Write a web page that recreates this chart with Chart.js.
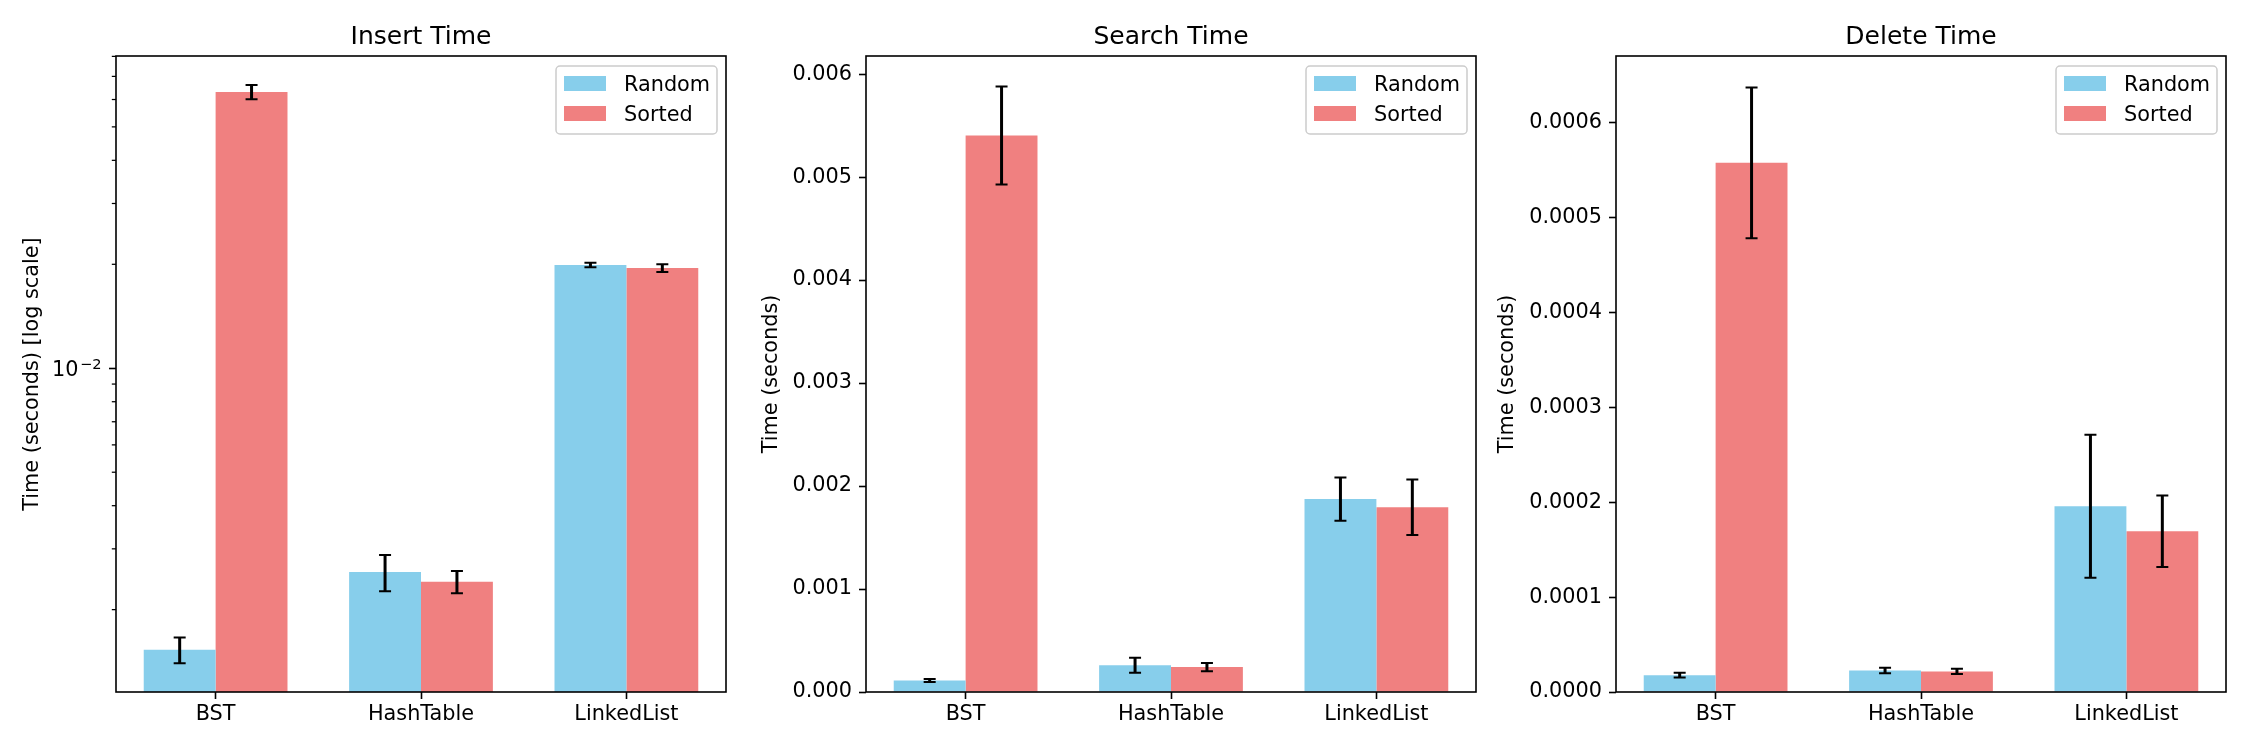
<!DOCTYPE html>
<html>
<head>
<meta charset="utf-8">
<title>Insert / Search / Delete Time</title>
<script src="https://cdn.jsdelivr.net/npm/chart.js@4.4.1/dist/chart.umd.min.js"></script>
<style>
  body { margin: 0; background: #fff; }
  #wrap { position: relative; width: 2250px; height: 750px; overflow: hidden; }
  canvas { display: block; position: absolute; top: 0; }
  #insertChart { left: -10px; }
  #searchChart { left: 740px; }
  #deleteChart { left: 1490px; }
</style>
</head>
<body>
<div id="wrap">
  <canvas id="insertChart" width="760" height="750"></canvas>
  <canvas id="searchChart" width="760" height="750"></canvas>
  <canvas id="deleteChart" width="760" height="750"></canvas>
</div>
<script>
const categories = ['BST', 'HashTable', 'LinkedList'];
const seriesNames = ['Random', 'Sorted'];
const seriesColors = ['#87CEEB', '#F08080'];

// mean times (seconds) and std error bars
const insertRandom = [0.00153, 0.00257, 0.0199];
const insertRandomErr = [0.00013, 0.00031, 0.0003];
const insertSorted = [0.0631, 0.00241, 0.0195];
const insertSortedErr = [0.0030, 0.00018, 0.0005];

const searchRandom = [0.000112, 0.000260, 0.001873];
const searchRandomErr = [0.000015, 0.000072, 0.000210];
const searchSorted = [0.005404, 0.000242, 0.001794];
const searchSortedErr = [0.000477, 0.000040, 0.000270];

const deleteRandom = [0.0000177, 0.0000227, 0.0001958];
const deleteRandomErr = [0.0000025, 0.0000028, 0.0000754];
const deleteSorted = [0.000558, 0.0000217, 0.0001695];
const deleteSortedErr = [0.0000795, 0.0000028, 0.0000378];

// y tick values
const insertTicks = [0.002, 0.003, 0.004, 0.005, 0.006, 0.007, 0.008, 0.009,
                     0.01, 0.02, 0.03, 0.04, 0.05, 0.06, 0.07, 0.08];
const searchTicks = [0, 0.001, 0.002, 0.003, 0.004, 0.005, 0.006];
const deleteTicks = [0, 0.0001, 0.0002, 0.0003, 0.0004, 0.0005, 0.0006];

const FONT = 'DejaVu Sans';
const FS = 20.8;
const SHIFT = 10; // canvases start 10px left of their panel so y titles are not clipped

function isPow10(v) {
    const l = Math.log10(v);
    return Math.abs(l - Math.round(l)) < 1e-9;
}

// error bars, frame, title, axis title, legend
const decorPlugin = {
    id: 'decor',
    afterDatasetsDraw(chart) {
        const ctx = chart.ctx;
        const y = chart.scales.y;
        ctx.save();
        ctx.strokeStyle = '#000';
        chart.data.datasets.forEach((ds, d) => {
            const meta = chart.getDatasetMeta(d);
            meta.data.forEach((bar, i) => {
                const v = ds.data[i].y;
                const e = ds.errors[i];
                const top = y.getPixelForValue(v + e);
                const bot = y.getPixelForValue(v - e);
                ctx.lineWidth = 3;
                ctx.beginPath();
                ctx.moveTo(bar.x, top);
                ctx.lineTo(bar.x, bot);
                ctx.stroke();
                ctx.lineWidth = 2;
                ctx.beginPath();
                ctx.moveTo(bar.x - 6, top);
                ctx.lineTo(bar.x + 6, top);
                ctx.moveTo(bar.x - 6, bot);
                ctx.lineTo(bar.x + 6, bot);
                ctx.stroke();
            });
        });
        ctx.restore();
    },
    afterDraw(chart, args, opts) {
        const ctx = chart.ctx;
        const a = chart.chartArea;
        ctx.save();

        // log axis: short minor ticks, and 10^n labels with a raised exponent
        const ys = chart.scales.y;
        if (ys.type === 'logarithmic') {
            ctx.strokeStyle = '#000';
            ctx.fillStyle = '#000';
            ctx.lineWidth = 1.25;
            ys.ticks.forEach(t => {
                const py = ys.getPixelForValue(t.value);
                if (!t.major) {
                    ctx.beginPath();
                    ctx.moveTo(a.left - 4.2, py);
                    ctx.lineTo(a.left, py);
                    ctx.stroke();
                    return;
                }
                const exp = '\u2212'.repeat(t.value < 1 ? 1 : 0) + String(Math.abs(Math.round(Math.log10(t.value))));
                ctx.textBaseline = 'alphabetic';
                ctx.textAlign = 'right';
                ctx.font = '14.6px "' + FONT + '"';
                const right = a.left - 14.5;
                ctx.fillText(exp, right, py + 0.8);
                const ew = ctx.measureText(exp).width;
                ctx.font = FS + 'px "' + FONT + '"';
                ctx.fillText('10', right - ew - 1.5, py + 7.7);
            });
        }

        // axes frame
        ctx.strokeStyle = '#000';
        ctx.lineWidth = 1.6;
        ctx.strokeRect(a.left, a.top, a.right - a.left, a.bottom - a.top);

        // title
        ctx.fillStyle = '#000';
        ctx.font = '25px "' + FONT + '"';
        ctx.textAlign = 'center';
        ctx.textBaseline = 'alphabetic';
        ctx.fillText(opts.title, (a.left + a.right) / 2, 44);

        // y axis title
        ctx.font = FS + 'px "' + FONT + '"';
        ctx.save();
        ctx.translate(opts.yTitleX + SHIFT, (a.top + a.bottom) / 2);
        ctx.rotate(-Math.PI / 2);
        ctx.textBaseline = 'middle';
        ctx.fillText(opts.yTitle, 0, 0);
        ctx.restore();

        // legend, upper right
        const w = 161, h = 68;
        const lx = a.right - 9 - w, ly = a.top + 10;
        ctx.beginPath();
        ctx.roundRect(lx, ly, w, h, 4);
        ctx.fillStyle = 'rgba(255,255,255,0.8)';
        ctx.fill();
        ctx.strokeStyle = '#cccccc';
        ctx.lineWidth = 1.5;
        ctx.stroke();
        ctx.textAlign = 'left';
        ctx.textBaseline = 'alphabetic';
        chart.data.datasets.forEach((ds, d) => {
            const base = ly + 25 + d * 30;
            ctx.fillStyle = ds.backgroundColor;
            ctx.fillRect(lx + 8, base - 15, 42, 15);
            ctx.fillStyle = '#000';
            ctx.fillText(ds.label, lx + 68, base);
        });

        ctx.restore();
    }
};

function makeChart(id, panel) {
    const yScale = {
        type: panel.log ? 'logarithmic' : 'linear',
        min: panel.yMin,
        max: panel.yMax,
        afterBuildTicks: s => {
            s.ticks = panel.ticks.map(v => ({ value: v, major: panel.log ? isPow10(v) : true }));
        },
        afterFit: s => { s.width = 116; },
        border: { display: false },
        grid: {
            drawOnChartArea: false,
            drawTicks: true,
            tickLength: 7,
            tickWidth: 1.6,
            tickColor: c => (c.tick && c.tick.major) ? '#000' : 'rgba(0,0,0,0)'
        },
        ticks: {
            autoSkip: false,
            padding: 7,
            color: '#000',
            font: { family: FONT, size: FS },
            callback: v => panel.log ? '' : v.toFixed(panel.digits)
        }
    };

    return new Chart(document.getElementById(id), {
        type: 'bar',
        data: {
            datasets: seriesNames.map((name, s) => ({
                label: name,
                data: panel.values[s].map((v, i) => ({ x: i, y: v })),
                errors: panel.errors[s],
                backgroundColor: seriesColors[s],
                borderWidth: 0,
                categoryPercentage: 0.7,
                barPercentage: 1.0
            }))
        },
        options: {
            responsive: false,
            animation: false,
            devicePixelRatio: 1,
            layout: { padding: { top: 56, right: 24, left: SHIFT, bottom: 0 } },
            plugins: {
                legend: { display: false },
                tooltip: { enabled: false },
                title: { display: false },
                decor: { title: panel.title, yTitle: panel.yTitle, yTitleX: panel.yTitleX }
            },
            scales: {
                x: {
                    type: 'linear',
                    min: -0.485,
                    max: 2.485,
                    offset: false,
                    afterBuildTicks: s => { s.ticks = categories.map((c, i) => ({ value: i })); },
                    afterFit: s => { s.height = 58; },
                    border: { display: false },
                    grid: {
                        offset: false,
                        drawOnChartArea: false,
                        drawTicks: true,
                        tickLength: 7,
                        tickWidth: 1.6,
                        tickColor: '#000'
                    },
                    ticks: {
                        autoSkip: false,
                        maxRotation: 0,
                        padding: 3,
                        color: '#000',
                        font: { family: FONT, size: FS },
                        callback: v => categories[v]
                    }
                },
                y: yScale
            }
        },
        plugins: [decorPlugin]
    });
}

makeChart('insertChart', {
    title: 'Insert Time',
    yTitle: 'Time (seconds) [log scale]',
    yTitleX: 32.5,
    log: true,
    yMin: 0.001155,
    yMax: 0.0802,
    ticks: insertTicks,
    values: [insertRandom, insertSorted],
    errors: [insertRandomErr, insertSortedErr]
});

makeChart('searchChart', {
    title: 'Search Time',
    yTitle: 'Time (seconds)',
    yTitleX: 21.5,
    log: false,
    digits: 3,
    yMin: 0,
    yMax: 0.006176,
    ticks: searchTicks,
    values: [searchRandom, searchSorted],
    errors: [searchRandomErr, searchSortedErr]
});

makeChart('deleteChart', {
    title: 'Delete Time',
    yTitle: 'Time (seconds)',
    yTitleX: 8,
    log: false,
    digits: 4,
    yMin: 0,
    yMax: 0.0006706,
    ticks: deleteTicks,
    values: [deleteRandom, deleteSorted],
    errors: [deleteRandomErr, deleteSortedErr]
});
</script>
</body>
</html>
